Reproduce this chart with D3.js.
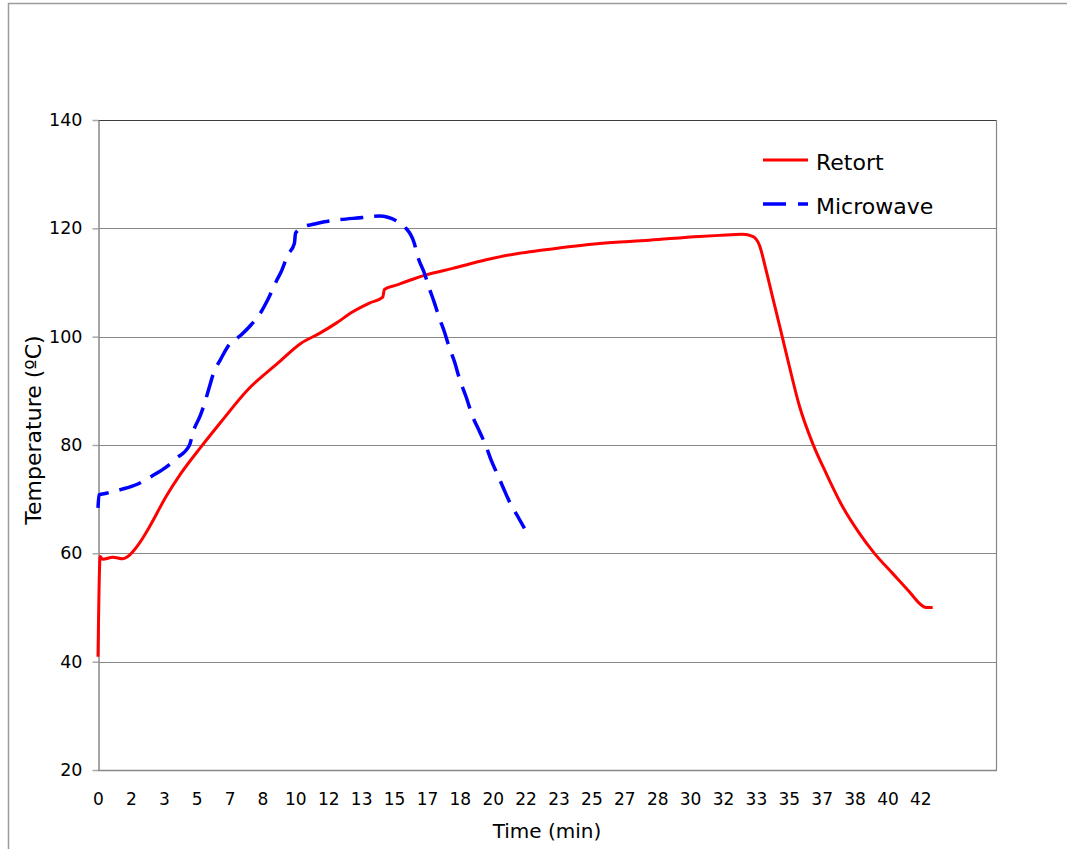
<!DOCTYPE html>
<html>
<head>
<meta charset="utf-8">
<script src="https://cdn.jsdelivr.net/npm/d3@7"></script>
<style>
  html, body { margin: 0; padding: 0; background: #fff; }
  svg { display: block; }
  text { font-family: "DejaVu Sans", sans-serif; fill: #000; }
</style>
</head>
<body>
<svg id="chart" width="1067" height="849"></svg>
<script>
// Heat penetration: product temperature (ºC) vs time (min)
const retortTime = [0, 0.11, 0.24, 0.75, 1.26, 1.51, 1.76, 2.10, 2.61, 3.45, 4.21, 5.23, 6.24, 7.59, 9.11, 10.29, 11.22, 12.07, 12.91, 13.75, 14.43, 14.51, 15.11, 15.95, 16.63, 17.97, 19.67, 21.35, 22.37, 25.41, 27.94, 30.47, 31.48, 32.66, 33.17, 33.51, 33.85, 34.18, 34.61, 35.03, 35.54, 36.21, 36.89, 37.73, 38.58, 39.34, 40.26, 41.11, 41.70, 41.95, 42.29];
const retortTemp = [40.9, 59.4, 58.9, 59.3, 59.0, 59.4, 60.3, 61.9, 64.9, 70.5, 74.8, 79.7, 84.3, 90.2, 95.1, 98.8, 100.6, 102.5, 104.6, 106.2, 107.3, 108.7, 109.5, 110.6, 111.4, 112.6, 114.2, 115.4, 115.9, 117.2, 117.8, 118.5, 118.7, 118.9, 118.5, 116.9, 112.3, 107.3, 100.9, 94.5, 87.2, 80.3, 74.8, 68.6, 63.7, 60.0, 56.3, 52.9, 50.5, 50.0, 50.0];

const microTime = [0, 0.05, 0.42, 1.18, 2.02, 2.70, 3.45, 3.96, 4.64, 4.80, 5.19, 5.40, 5.65, 5.82, 6.24, 6.58, 7.25, 7.76, 8.27, 8.60, 9.03, 9.28, 9.62, 9.95, 10.01, 10.37, 10.97, 11.47, 11.81, 13.41, 14.26, 15.11, 15.53, 16.03, 16.20, 16.54, 16.79, 17.05, 17.30, 17.55, 17.81, 18.06, 18.31, 18.65, 18.99, 19.33, 19.67, 19.92, 20.25, 20.51, 20.85, 21.27, 21.61];
const microTemp = [68.4, 70.8, 71.1, 71.8, 72.8, 74.2, 75.9, 77.5, 80.0, 82.2, 85.5, 87.7, 90.8, 92.9, 96.0, 98.2, 100.3, 102.2, 104.6, 106.8, 110.2, 112.0, 115.1, 117.2, 119.1, 120.2, 120.8, 121.2, 121.4, 122.0, 122.3, 121.4, 120.3, 117.2, 114.8, 111.7, 108.9, 106.2, 103.4, 100.9, 97.9, 95.4, 92.3, 88.9, 85.2, 82.5, 79.7, 77.2, 74.5, 72.3, 69.5, 66.8, 64.6];

// category labels, one every 100 s, shown as rounded minutes
const timeTickLabels = [0, 2, 3, 5, 7, 8, 10, 12, 13, 15, 17, 18, 20, 22, 23, 25, 27, 28, 30, 32, 33, 35, 37, 38, 40, 42];
const tempTicks = [20, 40, 60, 80, 100, 120, 140];
const seriesNames = ["Retort", "Microwave"];

const svg = d3.select("#chart");
const plot = { left: 98, top: 120, right: 996, bottom: 770 };
const gridColor = "#878787";

// outer chart frame
svg.append("rect")
  .attr("x", 8.5).attr("y", 3.5)
  .attr("width", 1100).attr("height", 900)
  .attr("fill", "none").attr("stroke", "#9c9c9c").attr("stroke-width", 1.5);

const x = d3.scaleLinear().domain([0, 45.5]).range([plot.left, plot.right]);
const y = d3.scaleLinear().domain([20, 140]).range([plot.bottom, plot.top]);

// horizontal gridlines
svg.append("g")
  .selectAll("line")
  .data(tempTicks.filter(d => d > 20 && d < 140))
  .join("line")
  .attr("x1", plot.left).attr("x2", plot.right)
  .attr("y1", d => Math.round(y(d)) + 0.5).attr("y2", d => Math.round(y(d)) + 0.5)
  .attr("stroke", gridColor).attr("stroke-width", 1);

// plot area border
svg.append("line")
  .attr("x1", plot.left).attr("x2", plot.right)
  .attr("y1", plot.top + 0.5).attr("y2", plot.top + 0.5)
  .attr("stroke", "#3c3c3c").attr("stroke-width", 1);
svg.append("line")
  .attr("x1", plot.right + 0.5).attr("x2", plot.right + 0.5)
  .attr("y1", plot.top).attr("y2", plot.bottom)
  .attr("stroke", gridColor).attr("stroke-width", 1.2);
svg.append("line")
  .attr("x1", plot.left).attr("x2", plot.right + 1)
  .attr("y1", plot.bottom + 0.5).attr("y2", plot.bottom + 0.5)
  .attr("stroke", gridColor).attr("stroke-width", 1.5);

// y axis
const yAxis = svg.append("g")
  .attr("transform", `translate(${plot.left + 0.5},0)`)
  .call(d3.axisLeft(y).tickValues(tempTicks).tickSize(6).tickPadding(10).tickSizeOuter(0));
yAxis.select(".domain").attr("stroke", gridColor).attr("stroke-width", 1.5);
yAxis.selectAll(".tick line").attr("stroke", "#a8a8a8").attr("stroke-width", 1.5);
yAxis.selectAll("text").style("font-size", "17.5px").attr("fill", "#000");

// x axis (category-style labels every 100 s)
const tickPositions = timeTickLabels.map((d, i) => i * 100 / 60);
const xAxis = svg.append("g")
  .attr("transform", `translate(0,${plot.bottom})`)
  .call(d3.axisBottom(x).tickValues(tickPositions)
    .tickFormat((d, i) => timeTickLabels[i]).tickSize(0).tickPadding(23));
xAxis.select(".domain").remove();
xAxis.selectAll("text").style("font-size", "17px").attr("fill", "#000");

// axis titles
svg.append("text")
  .attr("transform", `translate(41,${(plot.top + plot.bottom) / 2 - 15}) rotate(-90)`)
  .attr("text-anchor", "middle")
  .style("font-size", "22px")
  .text("Temperature (ºC)");
svg.append("text")
  .attr("x", (plot.left + plot.right) / 2).attr("y", 838)
  .attr("text-anchor", "middle")
  .style("font-size", "20px")
  .text("Time (min)");

// series
const line = d3.line().x(d => x(d[0])).y(d => y(d[1])).curve(d3.curveMonotoneX);

svg.append("path")
  .datum(d3.zip(retortTime, retortTemp))
  .attr("d", line)
  .attr("fill", "none").attr("stroke", "#ff0000")
  .attr("stroke-width", 3).attr("stroke-linejoin", "round");

svg.append("path")
  .datum(d3.zip(microTime, microTemp))
  .attr("d", line)
  .attr("fill", "none").attr("stroke", "#0000ff")
  .attr("stroke-width", 3.5).attr("stroke-dasharray", "23,11");

// legend
const legend = svg.append("g");
const legendRows = [
  { name: seriesNames[0], color: "#ff0000", dash: null, width: 3, y: 160 },
  { name: seriesNames[1], color: "#0000ff", dash: "23,12", width: 3.5, y: 204 }
];
legendRows.forEach(r => {
  legend.append("line")
    .attr("x1", 763).attr("x2", 808)
    .attr("y1", r.y).attr("y2", r.y)
    .attr("stroke", r.color).attr("stroke-width", r.width)
    .attr("stroke-dasharray", r.dash);
  legend.append("text")
    .attr("x", 816).attr("y", r.y + 10)
    .style("font-size", "22px")
    .text(r.name);
});
</script>
</body>
</html>
